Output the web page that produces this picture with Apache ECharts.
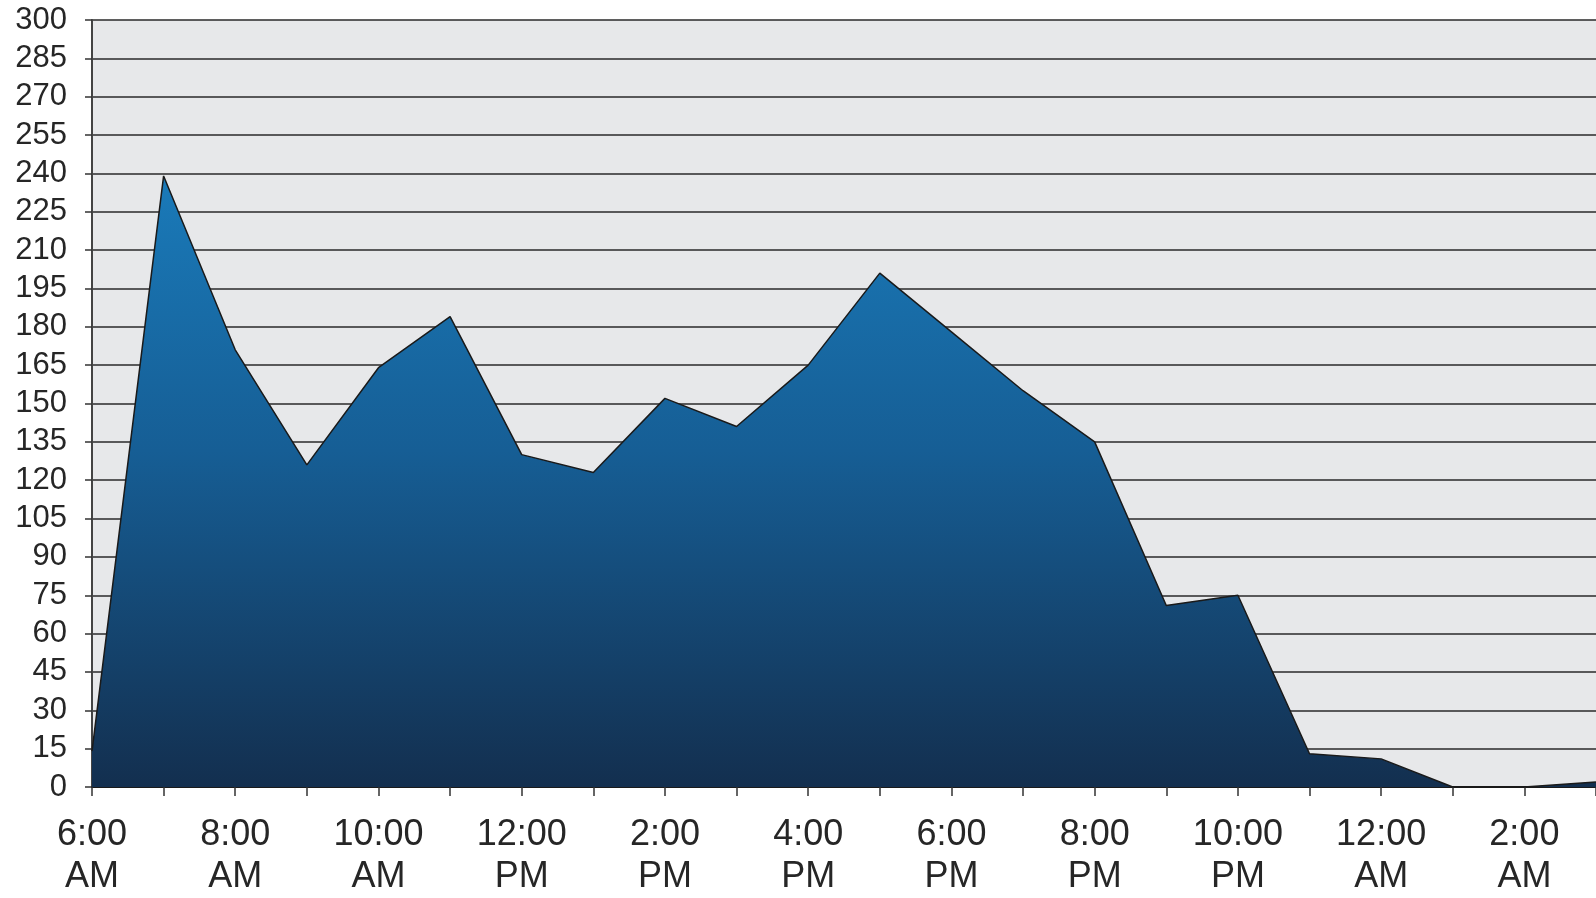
<!DOCTYPE html>
<html>
<head>
<meta charset="utf-8">
<script src="https://cdn.jsdelivr.net/npm/echarts@6/dist/echarts.min.js"></script>
<style>
html,body{margin:0;padding:0;background:#fff;}
#c{width:1596px;height:898px;}
</style>
</head>
<body>
<div id="c"></div>
<script>
const hours = ['6:00 AM','7:00 AM','8:00 AM','9:00 AM','10:00 AM','11:00 AM','12:00 PM','1:00 PM','2:00 PM','3:00 PM','4:00 PM','5:00 PM','6:00 PM','7:00 PM','8:00 PM','9:00 PM','10:00 PM','11:00 PM','12:00 AM','1:00 AM','2:00 AM','3:00 AM'];
const counts = [14, 239, 171, 126, 164, 184, 130, 123, 152, 141, 165, 201, 178, 155, 135, 71, 75, 13, 11, 0, 0, 2];
const yMin = 0, yMax = 300, yStep = 15;

const chart = echarts.init(document.getElementById('c'));
chart.setOption({
  animation: false,
  backgroundColor: '#ffffff',
  grid: {
    left: 92, top: 20, bottom: 104, right: -12,
    show: true, backgroundColor: '#e7e8ea', borderWidth: 0
  },
  xAxis: {
    type: 'category',
    data: hours,
    boundaryGap: false,
    axisLine: { show: true, lineStyle: { color: '#1a1a1a', width: 2 } },
    axisTick: { show: true, interval: 0, length: 9, lineStyle: { color: '#333', width: 1.5 } },
    axisLabel: {
      interval: 1,
      margin: 27,
      fontFamily: 'Liberation Sans, Arial, sans-serif',
      fontSize: 36,
      lineHeight: 42,
      color: '#262626',
      formatter: v => v.replace(' ', '\n')
    },
    splitLine: { show: false }
  },
  yAxis: {
    type: 'value',
    min: yMin, max: yMax, interval: yStep,
    axisLine: { show: true, lineStyle: { color: '#444', width: 2 } },
    axisTick: { show: true, length: 7, lineStyle: { color: '#333', width: 1.5 } },
    axisLabel: {
      margin: 25,
      fontFamily: 'Liberation Sans, Arial, sans-serif',
      fontSize: 31,
      color: '#262626'
    },
    splitLine: { show: true, lineStyle: { color: '#2a2a2a', width: 1.5 } }
  },
  series: [{
    type: 'line',
    data: counts,
    symbol: 'none',
    z: 3,
    lineStyle: { color: '#1a1a1a', width: 1.5 },
    areaStyle: {
      opacity: 1,
      color: new echarts.graphic.LinearGradient(0, 0, 0, 1, [
        { offset: 0, color: '#1a7ab9' },
        { offset: 0.45, color: '#165e95' },
        { offset: 1, color: '#132f4f' }
      ])
    }
  }]
});
</script>
</body>
</html>
